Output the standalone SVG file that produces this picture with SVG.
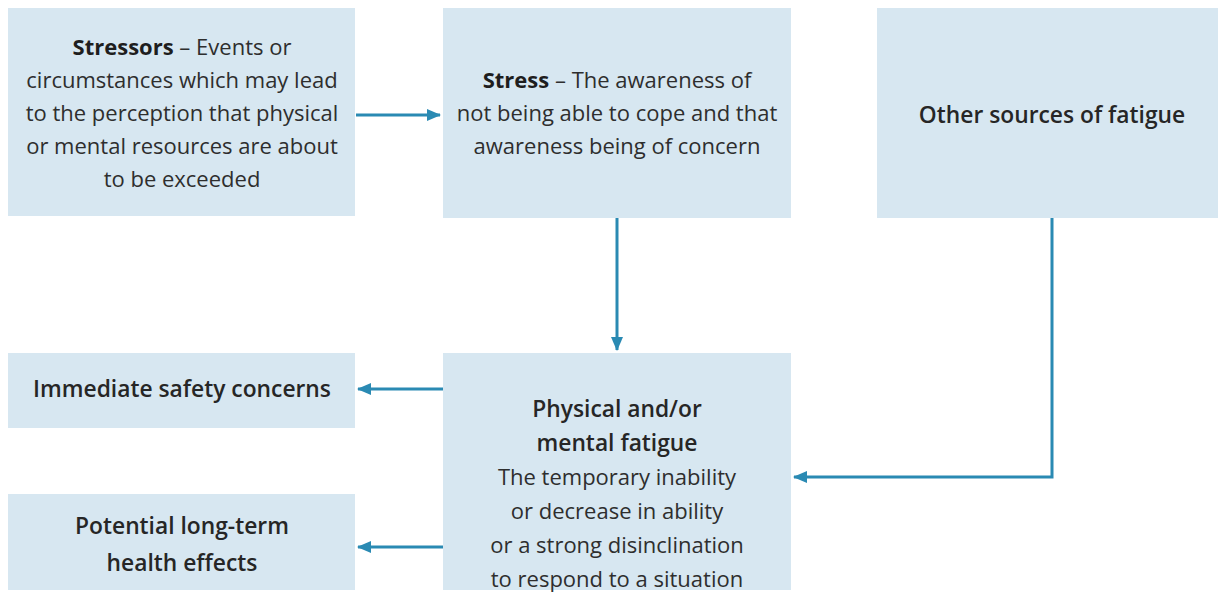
<svg xmlns="http://www.w3.org/2000/svg" width="1224" height="594" viewBox="0 0 1224 594">
<style>
.box{fill:#d7e7f1;}
.t{font-family:"Open Sans","Noto Sans","Liberation Sans",sans-serif;font-size:22px;fill:#2e2e2e;text-anchor:middle;}
.h{fill:#262626;font-weight:600;font-size:22.8px;}
.b{font-weight:700;fill:#1e1e1e;}
.c{fill:none;stroke:#2a8ab3;stroke-width:3;}
</style>
<defs>
<marker id="ah" viewBox="0 0 14 12" refX="13" refY="6" markerWidth="14" markerHeight="12" markerUnits="userSpaceOnUse" orient="auto">
<path d="M0,0 L14,6 L0,12 Z" fill="#2a8ab3"/>
</marker>
</defs>
<rect width="1224" height="594" fill="#ffffff"/>
<g id="connectors">
<line class="c" x1="356" y1="115" x2="440" y2="115" marker-end="url(#ah)"/>
<line class="c" x1="617" y1="218" x2="617" y2="350" marker-end="url(#ah)"/>
<polyline class="c" points="1052,218 1052,477 794,477" marker-end="url(#ah)"/>
<line class="c" x1="443" y1="389" x2="358" y2="389" marker-end="url(#ah)"/>
<line class="c" x1="443" y1="547" x2="358" y2="547" marker-end="url(#ah)"/>
</g>
<g id="stressors">
<rect class="box" x="8" y="8" width="347" height="208"/>
<text class="t" x="182" y="55"><tspan class="b">Stressors</tspan> – Events or</text>
<text class="t" x="182" y="88">circumstances which may lead</text>
<text class="t" x="182" y="121">to the perception that physical</text>
<text class="t" x="182" y="154">or mental resources are about</text>
<text class="t" x="182" y="187">to be exceeded</text>
</g>
<g id="stress">
<rect class="box" x="443" y="8" width="348" height="210"/>
<text class="t" x="617" y="88"><tspan class="b">Stress</tspan> – The awareness of</text>
<text class="t" x="617" y="121">not being able to cope and that</text>
<text class="t" x="617" y="154">awareness being of concern</text>
</g>
<g id="other">
<rect class="box" x="877" y="8" width="341" height="210"/>
<text class="t h" x="1052" y="123">Other sources of fatigue</text>
</g>
<g id="immediate">
<rect class="box" x="8" y="353" width="347" height="75"/>
<text class="t h" x="182" y="397">Immediate safety concerns</text>
</g>
<g id="longterm">
<rect class="box" x="8" y="494" width="347" height="96"/>
<text class="t h" x="182" y="534">Potential long-term</text>
<text class="t h" x="182" y="571">health effects</text>
</g>
<g id="fatigue">
<rect class="box" x="443" y="353" width="348" height="237"/>
<text class="t h" x="617" y="417">Physical and/or</text>
<text class="t h" x="617" y="451">mental fatigue</text>
<text class="t" x="617" y="485">The temporary inability</text>
<text class="t" x="617" y="519">or decrease in ability</text>
<text class="t" x="617" y="553">or a strong disinclination</text>
<text class="t" x="617" y="587">to respond to a situation</text>
</g>
</svg>
